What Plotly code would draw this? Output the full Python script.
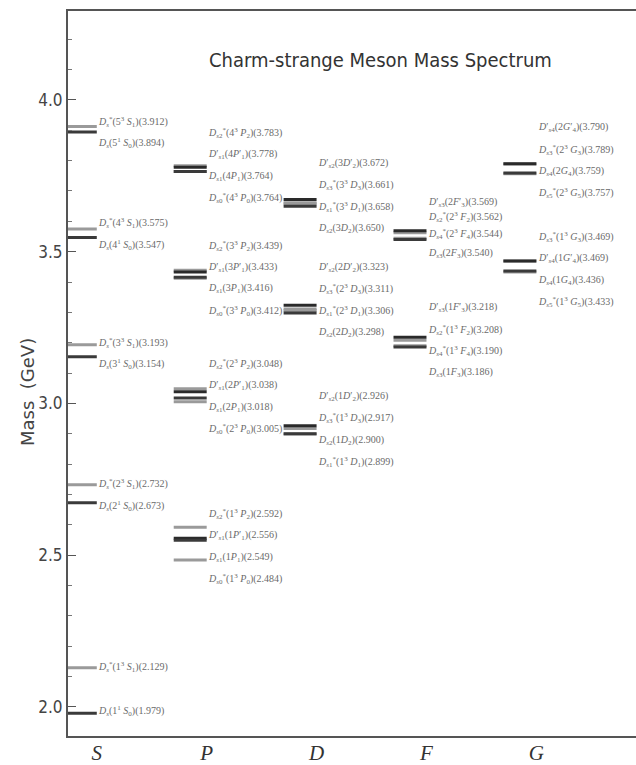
import re
import plotly.graph_objects as go

# ---------------- data ----------------
columns = ["S", "P", "D", "F", "G"]

S_states = ["D_{s}^{*}(5^{3} S_{1})", "D_{s}(5^{1} S_{0})",
            "D_{s}^{*}(4^{3} S_{1})", "D_{s}(4^{1} S_{0})",
            "D_{s}^{*}(3^{3} S_{1})", "D_{s}(3^{1} S_{0})",
            "D_{s}^{*}(2^{3} S_{1})", "D_{s}(2^{1} S_{0})",
            "D_{s}^{*}(1^{3} S_{1})", "D_{s}(1^{1} S_{0})"]
S_mass = [3.912, 3.894, 3.575, 3.547, 3.193, 3.154, 2.732, 2.673, 2.129, 1.979]

P_states = ["D_{s2}^{*}(4^{3} P_{2})", "D'_{s1}(4P'_{1})", "D_{s1}(4P_{1})", "D_{s0}^{*}(4^{3} P_{0})",
            "D_{s2}^{*}(3^{3} P_{2})", "D'_{s1}(3P'_{1})", "D_{s1}(3P_{1})", "D_{s0}^{*}(3^{3} P_{0})",
            "D_{s2}^{*}(2^{3} P_{2})", "D'_{s1}(2P'_{1})", "D_{s1}(2P_{1})", "D_{s0}^{*}(2^{3} P_{0})",
            "D_{s2}^{*}(1^{3} P_{2})", "D'_{s1}(1P'_{1})", "D_{s1}(1P_{1})", "D_{s0}^{*}(1^{3} P_{0})"]
P_mass = [3.783, 3.778, 3.764, 3.764, 3.439, 3.433, 3.416, 3.412,
          3.048, 3.038, 3.018, 3.005, 2.592, 2.556, 2.549, 2.484]

D_states = ["D'_{s2}(3D'_{2})", "D_{s3}^{*}(3^{3} D_{3})", "D_{s1}^{*}(3^{3} D_{1})", "D_{s2}(3D_{2})",
            "D'_{s2}(2D'_{2})", "D_{s3}^{*}(2^{3} D_{3})", "D_{s1}^{*}(2^{3} D_{1})", "D_{s2}(2D_{2})",
            "D'_{s2}(1D'_{2})", "D_{s3}^{*}(1^{3} D_{3})", "D_{s2}(1D_{2})", "D_{s1}^{*}(1^{3} D_{1})"]
D_mass = [3.672, 3.661, 3.658, 3.650, 3.323, 3.311, 3.306, 3.298, 2.926, 2.917, 2.900, 2.899]

F_states = ["D'_{s3}(2F'_{3})", "D_{s2}^{*}(2^{3} F_{2})", "D_{s4}^{*}(2^{3} F_{4})", "D_{s3}(2F_{3})",
            "D'_{s3}(1F'_{3})", "D_{s2}^{*}(1^{3} F_{2})", "D_{s4}^{*}(1^{3} F_{4})", "D_{s3}(1F_{3})"]
F_mass = [3.569, 3.562, 3.544, 3.540, 3.218, 3.208, 3.190, 3.186]

G_states = ["D'_{s4}(2G'_{4})", "D_{s3}^{*}(2^{3} G_{3})", "D_{s4}(2G_{4})", "D_{s5}^{*}(2^{3} G_{5})",
            "D_{s3}^{*}(1^{3} G_{3})", "D'_{s4}(1G'_{4})", "D_{s4}(1G_{4})", "D_{s5}^{*}(1^{3} G_{5})"]
G_mass = [3.790, 3.789, 3.759, 3.757, 3.469, 3.469, 3.436, 3.433]

y_ticks = [2.0, 2.5, 3.0, 3.5, 4.0]

# ---------------- layout constants ----------------
GROUP_SIZES = {"S": [2, 2, 2, 2, 1, 1], "P": [4, 4, 4, 4], "D": [4, 4, 4], "F": [4, 4], "G": [4, 4]}
# label-stack anchor (top label, in GeV) for every group
LABEL_TOP = {"S": [3.928, 3.595, 3.200, 2.735, 2.133, 1.988],
             "P": [3.892, 3.520, 3.130, 2.636],
             "D": [3.791, 3.448, 3.022],
             "F": [3.661, 3.315],
             "G": [3.908, 3.549]}
LABEL_STEP = 0.0715
# groups whose labels were placed unevenly in the original (offsets below the top label, GeV)
LABEL_OFFSETS = {("F", 0): [0.0, 0.047, 0.104, 0.166]}
LINE_W = 0.30
XR = [-0.262, 4.943]
YR = [1.904, 4.293]

COLORS = {"star": "#9a9a9a", "prime": "#2a2a2a", "plain": "#3a3a3a"}


def fmt(s):
    s = re.sub(r"([A-Za-z])", r"<i>\1</i>", s)
    s = re.sub(r"_\{([^}]*)\}", r"<sub>\1</sub>", s)
    s = re.sub(r"\^\{([^}]*)\}", r"<sup>\1</sup>", s)
    return s.replace("'", "′")


def kind(s):
    if "^{*}" in s:
        return "star"
    if "'" in s:
        return "prime"
    return "plain"


data = {"S": (S_states, S_mass), "P": (P_states, P_mass), "D": (D_states, D_mass),
        "F": (F_states, F_mass), "G": (G_states, G_mass)}

fig = go.Figure()
annotations = []

lines = {k: ([], []) for k in COLORS}
for ci, col in enumerate(columns):
    states, masses = data[col]
    for st, m in zip(states, masses):
        xs, ys = lines[kind(st)]
        xs += [ci - LINE_W, ci, None]
        ys += [m, m, None]
    idx = 0
    for g, size in enumerate(GROUP_SIZES[col]):
        offs = LABEL_OFFSETS.get((col, g), [k * LABEL_STEP for k in range(size)])
        for k in range(size):
            st, m = states[idx], masses[idx]
            annotations.append(dict(
                x=ci - 0.005, y=LABEL_TOP[col][g] - offs[k], xref="x", yref="y",
                text=f"{fmt(st)}({m:.3f})", showarrow=False, xanchor="left", yanchor="middle",
                font=dict(family="Liberation Serif, DejaVu Serif, serif", size=10, color="#6a6a6a")))
            idx += 1

for k, (xs, ys) in lines.items():
    fig.add_trace(go.Scatter(x=xs, y=ys, mode="lines", line=dict(color=COLORS[k], width=3),
                             hoverinfo="skip", showlegend=False))

annotations.append(dict(x=0.546, y=0.932, xref="paper", yref="paper", showarrow=False,
                        xanchor="center", yanchor="middle",
                        text="Charm-strange Meson Mass Spectrum",
                        font=dict(family="DejaVu Sans Condensed, DejaVu Sans", size=20, color="#333")))
annotations.append(dict(x=-0.070, y=0.4745, xref="paper", yref="paper", showarrow=False,
                        xanchor="center", yanchor="middle",
                        text="Mass  (GeV)", textangle=-90,
                        font=dict(family="DejaVu Sans", size=18, color="#444")))

fig.update_layout(
    width=640, height=765, template="none",
    margin=dict(l=68, r=0, t=11, b=29, autoexpand=False),
    plot_bgcolor="white", paper_bgcolor="white",
    annotations=annotations, showlegend=False,
)
fig.update_xaxes(range=XR, showgrid=False, zeroline=False, showline=True, mirror=True,
                 linecolor="#555", linewidth=2, ticks="", tickvals=list(range(len(columns))),
                 ticktext=[f"<i>{c}</i>" for c in columns], automargin=False, ticklabelstandoff=-3,
                 tickfont=dict(family="Liberation Serif, DejaVu Serif, serif", size=21, color="#333"))
fig.update_yaxes(range=YR, showgrid=False, zeroline=False, showline=True, mirror=False,
                 linecolor="#555", linewidth=2, ticks="inside", ticklen=8, tickcolor="#555",
                 tickvals=y_ticks, ticktext=[f"{v:.1f}" for v in y_ticks], automargin=False,
                 minor=dict(ticks="inside", ticklen=4, dtick=0.1, tick0=0, tickcolor="#777"),
                 tickfont=dict(family="DejaVu Sans Condensed, DejaVu Sans", size=17, color="#444"))

fig.write_html("out.html", config={"displayModeBar": False},
               post_script="document.body.style.margin='0px';document.body.style.overflow='hidden';")
